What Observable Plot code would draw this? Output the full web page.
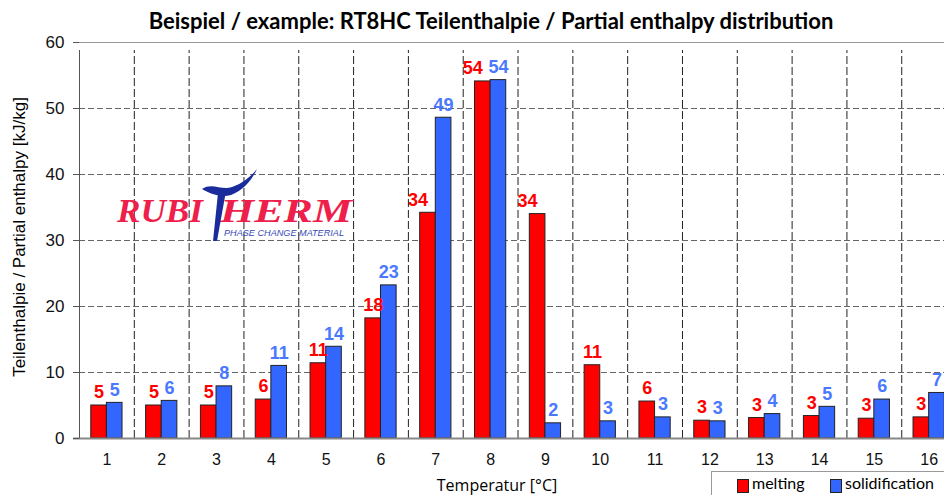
<!DOCTYPE html>
<html><head><meta charset="utf-8">
<script src="https://cdn.jsdelivr.net/npm/d3@7"></script>
<script src="https://cdn.jsdelivr.net/npm/@observablehq/plot@0.6"></script>
<style>
html,body{margin:0;padding:0;background:#fff;overflow:hidden;}
#wrap{position:relative;width:944px;height:495px;overflow:hidden;}
.ov{position:absolute;white-space:nowrap;}
#title{left:0;width:982px;top:7px;text-align:center;font:bold 22px Lato,sans-serif;color:#000;}
#ylab{left:20px;top:237px;transform:translate(-50%,-50%) rotate(-90deg);font:17px "Liberation Sans",Arial,sans-serif;color:#000;}
#xlab{left:497px;top:476px;transform:translateX(-50%);font:16px "Open Sans",sans-serif;line-height:18px;color:#000;}
#legend{left:711px;top:471px;width:260px;height:40px;border:1px solid #999;box-sizing:border-box;font:16px Lato,sans-serif;color:#000;}
#legend span.sw{position:absolute;width:10px;height:12px;border:1px solid #222;top:7px;}
#legend span.t{position:absolute;top:1px;line-height:19px;}
#logo{left:0;top:0;}
</style></head>
<body><div id="wrap">
<div id="chart"></div>
<svg id="logo" class="ov" width="944" height="495">
  <text x="117" y="222" fill="#ee1f4b" font-family="Liberation Serif" font-weight="bold" font-style="italic" font-size="34" textLength="86" lengthAdjust="spacingAndGlyphs">RUBI</text>
  <text x="220" y="222" fill="#ee1f4b" font-family="Liberation Serif" font-weight="bold" font-style="italic" font-size="34" textLength="132" lengthAdjust="spacingAndGlyphs">HERM</text>
  <path d="M202,189 C212,182 222,191 232,187 C243,183 250,177 257,169 C251,182 242,191 231,195 C221,198 211,194 202,189 Z" fill="#1a2b9c"/>
  <path d="M218,193 L226,191 L217,241 L213,241 Z" fill="#1a2b9c"/>
  <text x="224" y="236" fill="#3548b8" font-family="Liberation Sans" font-style="italic" font-size="8.5" textLength="120" lengthAdjust="spacingAndGlyphs">PHASE CHANGE MATERIAL</text>
</svg>
<div id="title" class="ov">Beispiel / example: RT8HC Teilenthalpie / Partial enthalpy distribution</div>
<div id="ylab" class="ov">Teilenthalpie / Partial enthalpy [kJ/kg]</div>
<div id="xlab" class="ov">Temperatur [°C]</div>
<div id="legend" class="ov">
  <span class="sw" style="left:25px;background:#ff0000"></span><span class="t" style="left:40px">melting</span>
  <span class="sw" style="left:118px;background:#3366ff"></span><span class="t" style="left:133px">solidification</span>
</div>
</div>
<script>
const temps = [1,2,3,4,5,6,7,8,9,10,11,12,13,14,15,16];
const melting = [5.0,5.0,5.0,5.9,11.4,18.2,34.2,54.1,34.0,11.1,5.6,2.7,3.1,3.4,3.0,3.2];
const solidification = [5.4,5.7,7.9,11.0,13.9,23.2,48.6,54.3,2.3,2.6,3.2,2.6,3.7,4.8,5.9,6.9];
const yTicks = [0,10,20,30,40,50,60];
const gridY = [10,20,30,40,50];

const redFill = "#ff0000", blueFill = "#3366ff";
const redText = "#ff0000", blueText = "#4a78ff";
const half = 0.285;

const mData = temps.map((t,i) => ({t, v: melting[i]}));
const sData = temps.map((t,i) => ({t, v: solidification[i]}));
const bounds = temps.map(t => t + 0.5);

const chart = Plot.plot({
  width: 944, height: 495,
  marginLeft: 79, marginRight: 0, marginTop: 42, marginBottom: 57,
  style: {fontFamily: "Liberation Sans, Arial, sans-serif", fontSize: "16px", color: "#111", background: "#fff"},
  x: {type: "linear", domain: [0.5, 16.28]},
  y: {domain: [0, 60]},
  marks: [
    Plot.ruleY(gridY, {stroke: "#666", strokeDasharray: "6,3", strokeWidth: 1}),
    Plot.ruleX(bounds, {y1: 0, y2: 60, insetBottom: -8, stroke: "#222", strokeDasharray: "8,3", strokeWidth: 1}),
    Plot.ruleY([60], {stroke: "#999", strokeWidth: 1}),
    Plot.rectY(mData, {x1: d => d.t - half, x2: d => d.t, y: "v", fill: redFill, stroke: "#222", strokeWidth: 1}),
    Plot.rectY(sData, {x1: d => d.t, x2: d => d.t + half, y: "v", fill: blueFill, stroke: "#222", strokeWidth: 1}),
    Plot.ruleY([0], {stroke: "#888", strokeWidth: 2, insetLeft: -6}),
    Plot.ruleX([0.5], {y1: 0, y2: 60, insetBottom: -8, stroke: "#555", strokeWidth: 1}),
    Plot.axisY({ticks: yTicks, tickSize: 6, tickPadding: 9, stroke: "#555", label: null, fontSize: 17}),
    Plot.axisX({ticks: temps, tickSize: 0, tickPadding: 15, label: null, tickFormat: d => String(d), fontSize: 16}),
    Plot.text(mData.filter(d => d.v < 30), {x: d => d.t - half/2, y: "v", text: d => String(Math.round(d.v)), dy: -13, fill: redText, fontWeight: "bold", fontSize: 18}),
    Plot.text(mData.filter(d => d.v >= 30), {x: d => d.t - half/2, y: "v", text: d => String(Math.round(d.v)), dy: -13, dx: -10, fill: redText, fontWeight: "bold", fontSize: 18}),
    Plot.text(sData, {x: d => d.t + half/2, y: "v", text: d => String(Math.round(d.v)), dy: -13, fill: blueText, fontWeight: "bold", fontSize: 18})
  ]
});
document.getElementById("chart").appendChild(chart);
</script>
</body></html>
